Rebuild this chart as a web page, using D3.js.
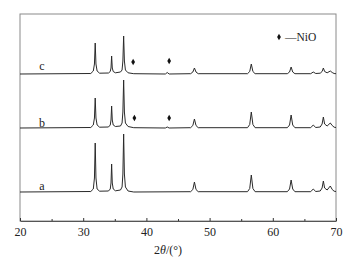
<!DOCTYPE html>
<html>
<head>
<meta charset="utf-8">
<script src="https://cdn.jsdelivr.net/npm/d3@7"></script>
<style>
  body { margin: 0; background: #fff; }
  text { font-family: "Liberation Serif", "DejaVu Serif", serif; fill: #222; }
</style>
</head>
<body>
<div id="chart"></div>
<script>
// Set dimensions and margins
const width = 361;
const height = 263;
const margin = {left: 20, right: 25, top: 14, bottom: 42};

// Series labels and vertical offsets (intensity units)
const labels = ["a", "b", "c"];
const offsets = [29, 93, 147];

// XRD patterns [2theta, intensity]
const seriesA = [[20,0],[31.2,0.5],[31.6,3],[31.78,14],[31.9,49],[32.02,14],[32.2,3],[32.6,0.8],
  [34.0,1],[34.28,3],[34.4,9],[34.5,28],[34.6,9],[34.75,3],[35.1,1.2],
  [35.9,2],[36.15,5],[36.28,18],[36.4,58],[36.52,18],[36.68,5],[37.1,1],[38,0],
  [47.0,0.3],[47.35,2.5],[47.6,10],[47.85,2.5],[48.2,0.3],
  [56.0,0.3],[56.35,3.5],[56.6,17],[56.85,3.5],[57.2,0.3],
  [62.3,0.3],[62.65,3],[62.9,12],[63.15,3],[63.5,0.3],
  [66.0,0.3],[66.4,3],[66.8,0.5],[67.5,1],[67.8,4],[68.0,11],[68.2,4],[68.6,2],
  [69.1,6],[69.4,2.5],[69.7,0.8],[70,0.5]];

const seriesB = [[20,0],[31.2,0.5],[31.6,3],[31.78,10],[31.9,30],[32.02,10],[32.2,3],[32.6,0.8],
  [34.0,1],[34.28,3],[34.4,8],[34.5,22],[34.6,8],[34.75,3],[35.1,1.5],
  [35.9,2],[36.15,5],[36.28,16],[36.4,48],[36.52,16],[36.68,5],[37.1,1.5],[38,0.3],
  [43.0,0],[43.3,1],[43.6,0],
  [47.0,0.3],[47.35,2.5],[47.6,9],[47.85,2.5],[48.2,0.3],
  [56.0,0.3],[56.35,3.5],[56.6,16],[56.85,3.5],[57.2,0.3],
  [62.3,0.3],[62.65,3],[62.9,13],[63.15,3],[63.5,0.3],
  [66.0,0.3],[66.4,3],[66.8,0.5],[67.5,1],[67.8,4],[68.0,11],[68.2,4],[68.6,2],
  [69.1,5],[69.4,2.5],[69.7,0.8],[70,0.5]];

const seriesC = [[20,0],[31.2,0.5],[31.6,3],[31.78,10],[31.9,31],[32.02,10],[32.2,3],[32.6,0.8],
  [34.0,1],[34.28,2.5],[34.4,6],[34.5,18],[34.6,6],[34.75,2.5],[35.1,1.2],
  [35.9,2],[36.15,4],[36.28,13],[36.4,38],[36.52,13],[36.68,4],[37.1,1.2],[38,0.3],
  [43.0,0],[43.3,1.5],[43.6,0],
  [47.0,0.3],[47.35,2],[47.6,6],[47.85,2],[48.2,0.3],
  [56.0,0.3],[56.35,2.5],[56.6,10],[56.85,2.5],[57.2,0.3],
  [62.3,0.3],[62.65,2],[62.9,7],[63.15,2],[63.5,0.3],
  [66.0,0.3],[66.4,2],[66.8,0.5],[67.5,0.8],[67.8,2.5],[68.0,6],[68.2,2.5],[68.6,1.2],
  [69.1,3],[69.4,1.5],[69.7,0.5],[70,0.3]];

const allSeries = [seriesA, seriesB, seriesC];

// NiO markers [2theta, intensity above baseline] for b and c
const nioB = [[38.1, 10], [43.6, 10]];
const nioC = [[37.9, 12], [43.6, 13]];

const xTicks = [20, 30, 40, 50, 60, 70];
const xMinor = [25, 35, 45, 55, 65];

const svg = d3.select("#chart")
  .append("svg")
  .attr("width", width)
  .attr("height", height);

// Scales
const xScale = d3.scaleLinear()
  .domain([20, 70])
  .range([margin.left, width - margin.right]);

const yScale = d3.scaleLinear()
  .domain([0, 207])
  .range([height - margin.bottom, margin.top]);

// Frame
svg.append("rect")
  .attr("x", margin.left)
  .attr("y", margin.top)
  .attr("width", width - margin.left - margin.right)
  .attr("height", height - margin.top - margin.bottom)
  .attr("fill", "none")
  .attr("stroke", "#8a8a8a")
  .attr("stroke-width", 1);

// x axis, ticks pointing inward
const xAxis = svg.append("g")
  .attr("transform", `translate(0,${height - margin.bottom})`)
  .call(d3.axisBottom(xScale).tickValues(xTicks).tickSizeInner(-3).tickSizeOuter(0).tickPadding(6));
xAxis.select(".domain").attr("stroke", "#555");
xAxis.selectAll(".tick line").attr("stroke", "#333");
xAxis.selectAll(".tick text")
  .attr("font-family", "Liberation Serif, serif")
  .attr("font-size", "12px")
  .attr("fill", "#222");

svg.append("g")
  .attr("transform", `translate(0,${height - margin.bottom})`)
  .call(d3.axisBottom(xScale).tickValues(xMinor).tickSizeInner(-2).tickSizeOuter(0).tickFormat(""))
  .call(g => g.select(".domain").remove())
  .selectAll(".tick line").attr("stroke", "#333");

// Axis title
const title = svg.append("text")
  .attr("x", 154)
  .attr("y", 254)
  .attr("font-size", "12px");
title.append("tspan").text("2");
title.append("tspan").attr("font-style", "italic").text("θ");
title.append("tspan").text("/(°)");

// Curves
const line = d3.line()
  .x(d => xScale(d[0]))
  .y(d => d[1]);

allSeries.forEach(function(s, i) {
  svg.append("path")
    .datum(s.map(d => [d[0], yScale(d[1] + offsets[i])]))
    .attr("fill", "none")
    .attr("stroke", "#2a2a2a")
    .attr("stroke-width", 1)
    .attr("stroke-linejoin", "round")
    .attr("d", line);
});

// Series labels
const labelY = [190, 127, 70];
svg.selectAll(".lab")
  .data(labels)
  .enter()
  .append("text")
    .attr("class", "lab")
    .attr("x", 42)
    .attr("y", (d, i) => labelY[i])
    .attr("text-anchor", "middle")
    .attr("font-size", "12px")
    .text(d => d);

// NiO diamonds
const diamond = d3.symbol().type(d3.symbolDiamond).size(12);
[[nioB, 1], [nioC, 2]].forEach(function(pair) {
  svg.selectAll(null)
    .data(pair[0])
    .enter()
    .append("path")
      .attr("d", diamond)
      .attr("fill", "#111")
      .attr("transform", d => `translate(${xScale(d[0])},${yScale(d[1] + offsets[pair[1]])})`);
});

// Legend
svg.append("path")
  .attr("d", diamond)
  .attr("fill", "#111")
  .attr("transform", "translate(279,37)");
svg.append("text")
  .attr("x", 285)
  .attr("y", 41)
  .attr("font-size", "11.5px")
  .text("—NiO");
</script>
</body>
</html>
